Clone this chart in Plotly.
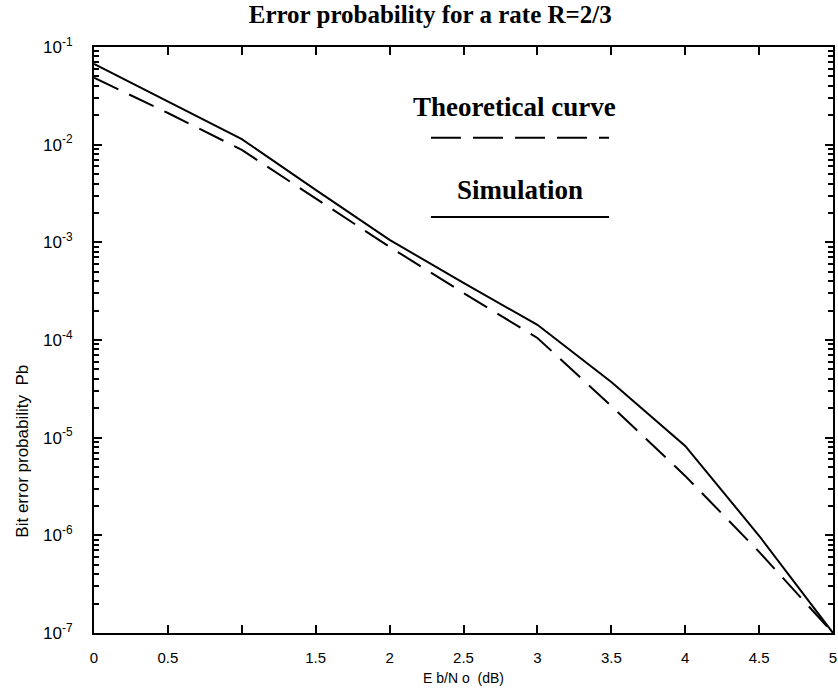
import plotly.graph_objs as go

# ---------------- Data -------------------------------------------------
EBNO_DB = [0, 0.5, 1, 1.5, 2, 2.5, 3, 3.5, 4, 4.5, 5]

# Simulation (solid line)
PB_SIM = [6.7e-2, 2.77e-2, 1.14e-2, 3.44e-3, 1.06e-3, 3.84e-4,
          1.43e-4, 3.72e-5, 8.24e-6, 9.9e-7, 1.0e-7]

# Theoretical curve (dashed line)
PB_THEORY = [4.85e-2, 2.11e-2, 8.83e-3, 2.84e-3, 8.98e-4, 3.03e-4,
             1.05e-4, 2.11e-5, 4.06e-6, 6.78e-7, 1.0e-7]

X_TICKS = [0, 0.5, 1, 1.5, 2, 2.5, 3, 3.5, 4, 4.5, 5]
X_TICK_TEXT = ["0", "0.5", "", "1.5", "2", "2.5", "3", "3.5", "4", "4.5", "5"]

Y_TICKS = [1e-1, 1e-2, 1e-3, 1e-4, 1e-5, 1e-6, 1e-7]
Y_TICK_TEXT = ["10<sup>-1</sup>", "10<sup>-2</sup>", "10<sup>-3</sup>", "10<sup>-4</sup>",
               "10<sup>-5</sup>", "10<sup>-6</sup>", "10<sup>-7</sup>"]
# ----------------------------------------------------------------------

SERIF = "Liberation Serif, Times New Roman, serif"
SANS = "Liberation Sans, Arial, sans-serif"

# minor log ticks 2..9 inside every decade
minor_vals = [m * d for d in Y_TICKS[1:] for m in range(2, 10)]

trace_theory = go.Scatter(
    x=EBNO_DB, y=PB_THEORY, mode="lines", name="Theoretical curve",
    line=dict(color="black", width=2, dash="27px,12px"),
)
trace_sim = go.Scatter(
    x=EBNO_DB, y=PB_SIM, mode="lines", name="Simulation",
    line=dict(color="black", width=2),
)

fig = go.Figure(data=[trace_theory, trace_sim])

axis_common = dict(
    showline=True, linecolor="black", linewidth=2, mirror="ticks",
    ticks="inside", ticklen=8, tickwidth=2, tickcolor="black",
    showgrid=False, zeroline=False, ticklabeloverflow="allow",
)

fig.update_layout(
    width=838, height=693,
    margin=dict(l=94, r=1, t=47, b=60),
    paper_bgcolor="white", plot_bgcolor="white",
    showlegend=False,
    title=dict(
        text="<b>Error probability for a rate R=2/3</b>",
        font=dict(family=SERIF, size=25, color="black"),
        x=0.455, xref="paper", xanchor="center",
        y=0.98, yanchor="middle",
    ),
    xaxis=dict(
        range=[0, 5], tickvals=X_TICKS, ticktext=X_TICK_TEXT,
        tickfont=dict(family=SANS, size=15, color="black"),
        ticklabelstandoff=10,
        **axis_common,
    ),
    yaxis=dict(
        type="log", range=[-7, -1], tickvals=Y_TICKS, ticktext=Y_TICK_TEXT,
        tickfont=dict(family=SANS, size=17, color="black"),
        ticklabelstandoff=16,
        minor=dict(tickmode="array", tickvals=minor_vals, ticks="inside",
                   ticklen=5, tickwidth=1.5, tickcolor="black", showgrid=False),
        **axis_common,
    ),
)

# axis titles placed as annotations to match the scan
fig.add_annotation(text="E b/N o  (dB)", xref="paper", yref="paper",
                   x=0.5, y=-0.077, xanchor="center", yanchor="middle",
                   showarrow=False, font=dict(family=SANS, size=14, color="black"))
fig.add_annotation(text="Bit error probability  Pb", xref="paper", yref="paper",
                   x=-0.097, y=0.31, xanchor="center", yanchor="middle",
                   showarrow=False, textangle=-90,
                   font=dict(family=SANS, size=17, color="black"))

# hand-drawn style legend inside the plot
fig.add_annotation(text="<b>Theoretical curve</b>", xref="paper", yref="paper",
                   x=0.569, y=0.898, xanchor="center", yanchor="middle",
                   showarrow=False, font=dict(family=SERIF, size=27, color="black"))
fig.add_shape(type="line", xref="paper", yref="paper", x0=0.456, x1=0.697,
              y0=0.845, y1=0.845, line=dict(color="black", width=2, dash="30px,12px"))
fig.add_annotation(text="<b>Simulation</b>", xref="paper", yref="paper",
                   x=0.576, y=0.756, xanchor="center", yanchor="middle",
                   showarrow=False, font=dict(family=SERIF, size=27, color="black"))
fig.add_shape(type="line", xref="paper", yref="paper", x0=0.456, x1=0.697,
              y0=0.710, y1=0.710, line=dict(color="black", width=2))

fig.write_html("out.html", config={"displayModeBar": False},
               post_script="document.body.style.margin='0px';")
